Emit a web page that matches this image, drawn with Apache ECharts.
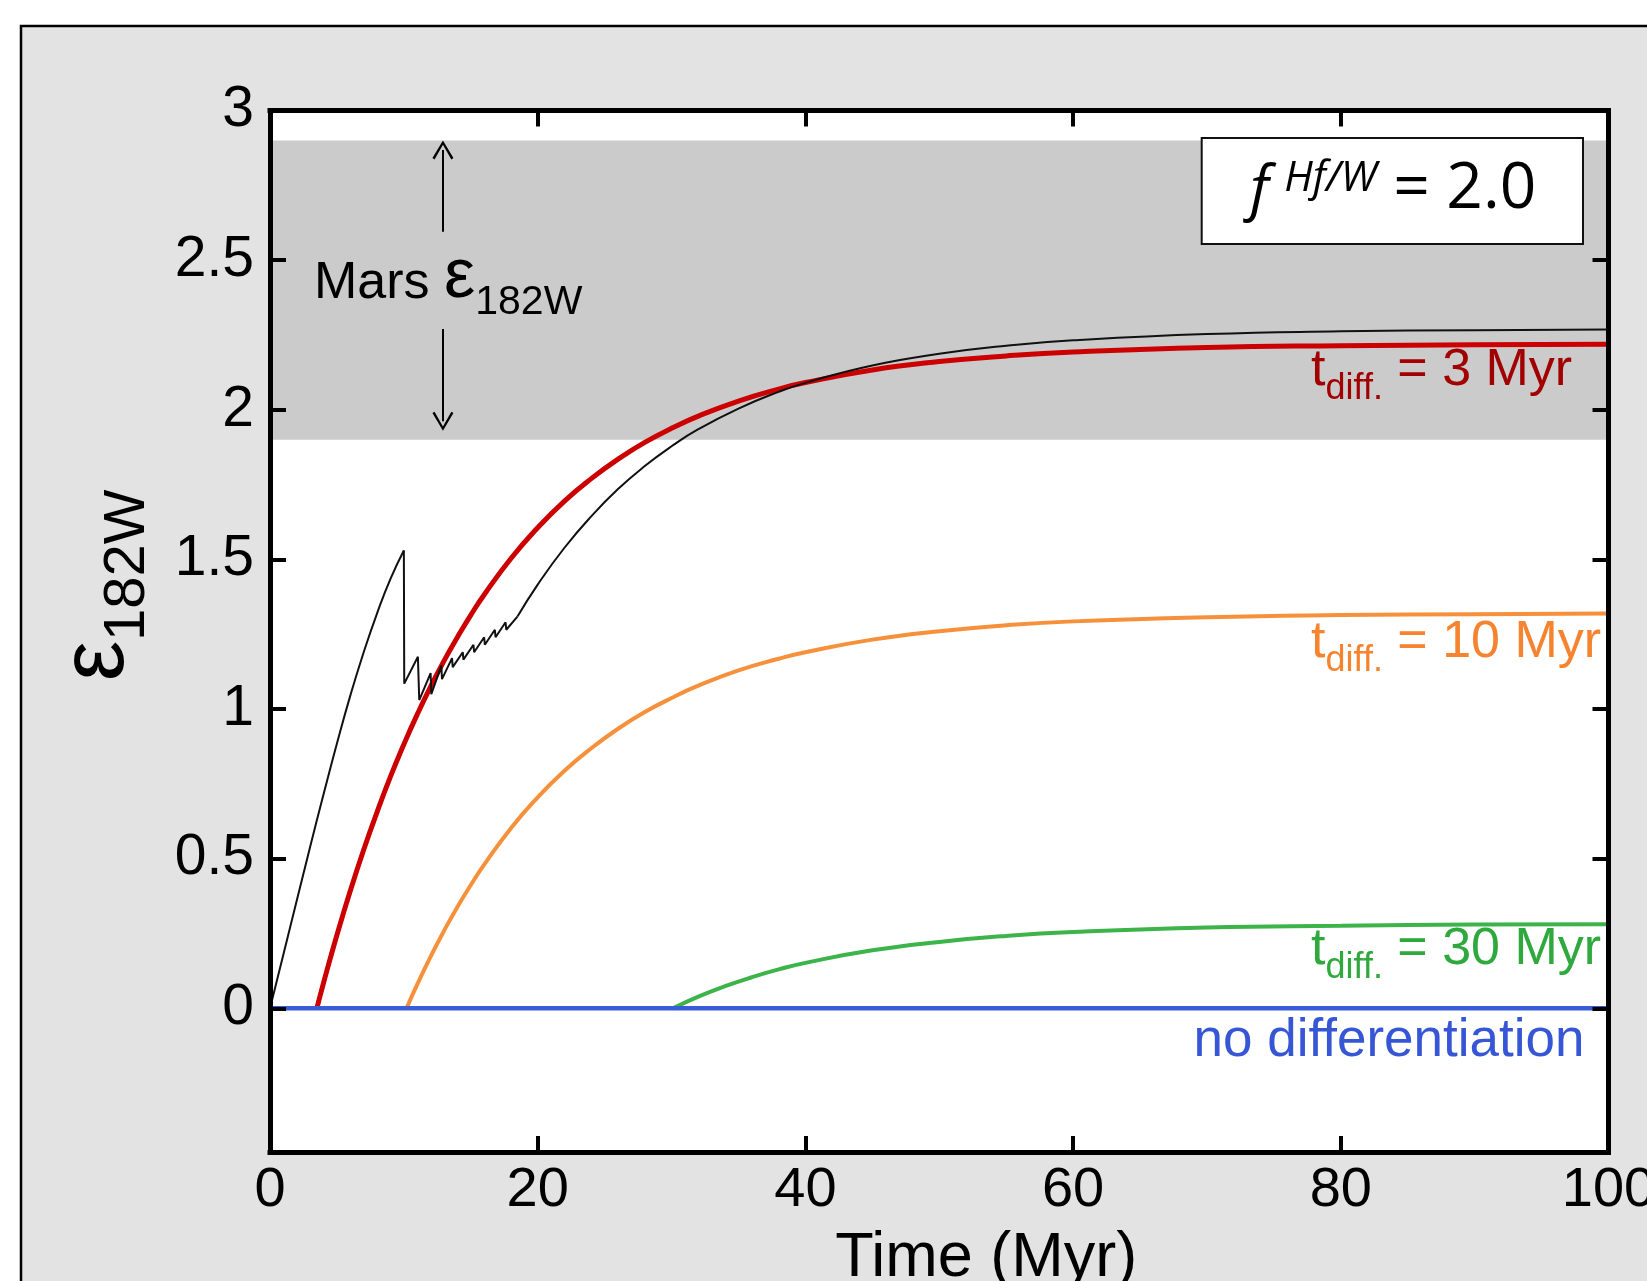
<!DOCTYPE html>
<html>
<head>
<meta charset="utf-8">
<script src="https://cdn.jsdelivr.net/npm/echarts@6/dist/echarts.min.js"></script>
<style>
  html, body { margin: 0; padding: 0; background: #fff; }
  #chart { width: 1647px; height: 1281px; }
</style>
</head>
<body>
<div id="chart"></div>
<script>
// Axis ticks
const xTicks = [0, 20, 40, 60, 80, 100];
const yTicks = [0, 0.5, 1, 1.5, 2, 2.5, 3];

// Mars epsilon-182W range (shaded band)
const marsRange = [1.9, 2.9];

// [time (Myr), epsilon 182W]
const tdiff3 = [[3.5,0],[4,0.085],[5,0.245],[6,0.393],[7,0.53],[8,0.656],[9,0.774],[10,0.882],[11,0.982],[12,1.075],[13,1.161],[14,1.24],[15,1.314],[16,1.382],[18,1.503],[20,1.606],[22,1.695],[24,1.77],[26,1.835],[28,1.891],[30,1.938],[32,1.979],[35,2.029],[38,2.069],[40,2.091],[45,2.133],[50,2.161],[55,2.18],[60,2.193],[70,2.208],[80,2.214],[90,2.217],[100,2.219]];
const tdiff10 = [[10.2,0],[11,0.08],[12,0.173],[13,0.259],[14,0.339],[15,0.412],[16,0.48],[18,0.602],[20,0.705],[22,0.794],[24,0.869],[26,0.934],[28,0.99],[30,1.037],[32,1.078],[35,1.129],[38,1.168],[40,1.19],[45,1.232],[50,1.26],[55,1.28],[60,1.293],[70,1.307],[80,1.314],[90,1.317],[100,1.319]];
const tdiff30 = [[30.1,0],[32,0.039],[34,0.074],[36,0.104],[38,0.13],[40,0.152],[45,0.194],[50,0.222],[55,0.242],[60,0.255],[70,0.27],[80,0.276],[90,0.28],[100,0.281]];
const noDiff = [[0,0],[100,0]];

// accretion model: growth, stepwise impacts, then decay-driven evolution
const accretionRise = [[0,0],[1,0.18],[2,0.36],[3,0.54],[4,0.715],[5,0.885],[6,1.045],[7,1.19],[8,1.32],[9,1.435],[10,1.53]];
const accretionSteps = [[10,1.53],[10.03,1.085],[11.05,1.175],[11.15,1.03],[12.0,1.12],[12.05,1.05],[12.8,1.145],[12.85,1.10],[13.6,1.17],[13.65,1.14],[14.4,1.19],[14.45,1.165],[15.2,1.215],[15.25,1.19],[16.0,1.24],[16.05,1.215],[16.8,1.265],[16.85,1.24],[17.6,1.29],[17.65,1.265],[18.5,1.31]];
const postAccretion = [[18.5,1.31],[20,1.416],[22,1.539],[24,1.644],[26,1.735],[28,1.812],[30,1.878],[32,1.935],[35,2.004],[38,2.06],[40,2.09],[45,2.148],[50,2.187],[55,2.214],[60,2.232],[70,2.253],[80,2.262],[90,2.266],[100,2.268]];

const FONT = "'Liberation Sans', Arial, Helvetica, sans-serif";
const BOXFONT = "'Open Sans', 'Noto Sans', sans-serif";

const COLORS = {
  red: '#cc0000', redText: '#a20000',
  orange: '#f7903a', orangeText: '#f5832f',
  green: '#3cb44a', greenText: '#2fa83e',
  blue: '#3b5cd8', blueText: '#3656d6',
  black: '#111111'
};

const chart = echarts.init(document.getElementById('chart'), null, { renderer: 'canvas' });

const axisLine = { show: true, onZero: false, lineStyle: { color: '#000', width: 5, cap: 'square' } };
const axisTick = { show: true, inside: true, length: 16, lineStyle: { color: '#000', width: 4 } };

function lineSeries(name, data, color, width, smooth, z) {
  return {
    name, type: 'line', data, symbol: 'none', smooth,
    lineStyle: { color, width }, itemStyle: { color }, z: z || 2, silent: true
  };
}

// chevron arrowhead pointing up
const ARROW = 'path://M10,0 L20,19 L18,20.5 L10,4.5 L2,20.5 L0,19 Z';

const option = {
  animation: false,
  backgroundColor: '#ffffff',
  grid: {
    left: 270, right: 38.5, top: 110.5, bottom: 129,
    outerBoundsMode: 'none', containLabel: false,
    show: true, backgroundColor: '#ffffff', borderWidth: 0
  },
  xAxis: [
    {
      type: 'value', position: 'bottom', min: xTicks[0], max: xTicks[xTicks.length - 1], interval: 20, z: 5,
      axisLine, axisTick, splitLine: { show: false },
      axisLabel: { margin: 11, fontSize: 56, fontFamily: FONT, color: '#000' },
      name: 'Time (Myr)', nameLocation: 'middle', nameGap: 75, nameMoveOverlap: false,
      nameTextStyle: { fontSize: 63, fontFamily: FONT, color: '#000', padding: [0, 0, 0, 94] }
    },
    {
      type: 'value', position: 'top', min: xTicks[0], max: xTicks[xTicks.length - 1], interval: 20, z: 5,
      axisLine, axisTick, splitLine: { show: false }, axisLabel: { show: false }
    }
  ],
  yAxis: [
    {
      type: 'value', position: 'left', min: -0.48, max: yTicks[yTicks.length - 1], z: 5,
      axisLine, splitLine: { show: false },
      axisTick: Object.assign({ customValues: yTicks }, axisTick),
      axisLabel: { customValues: yTicks, margin: 16, fontSize: 57, fontFamily: FONT, color: '#000' },
      name: '{e|ε}{s|182W}', nameLocation: 'middle', nameRotate: 90, nameGap: 113, nameMoveOverlap: false,
      nameTextStyle: {
        padding: [0, 0, 0, 92],
        rich: {
          e: { fontSize: 90, fontFamily: FONT, color: '#000' },
          s: { fontSize: 58, fontFamily: FONT, color: '#000', padding: [60, 0, 0, 0] }
        }
      }
    },
    {
      type: 'value', position: 'right', min: -0.48, max: yTicks[yTicks.length - 1], z: 5,
      axisLine, splitLine: { show: false },
      axisTick: Object.assign({ customValues: yTicks }, axisTick),
      axisLabel: { show: false }
    }
  ],
  series: [
    {
      name: 'Mars range', type: 'line', data: [], z: 1, silent: true,
      markArea: {
        silent: true,
        itemStyle: { color: '#cbcbcb' },
        data: [[{ yAxis: marsRange[0] }, { yAxis: marsRange[1] }]]
      }
    },
    lineSeries('t_diff = 3 Myr', tdiff3, COLORS.red, 5, 0.5),
    lineSeries('t_diff = 10 Myr', tdiff10, COLORS.orange, 4, 0.5),
    lineSeries('t_diff = 30 Myr', tdiff30, COLORS.green, 4, 0.5),
    lineSeries('no differentiation', noDiff, COLORS.blue, 4.5, false),
    lineSeries('accretion', accretionRise, COLORS.black, 2, 0.5, 3),
    lineSeries('accretion steps', accretionSteps, COLORS.black, 2, false, 3),
    Object.assign(lineSeries('after accretion', postAccretion, COLORS.black, 2, 0.5, 3), {
      markLine: {
        silent: true,
        symbol: ['none', ARROW],
        symbolSize: [21, 19],
        lineStyle: { color: '#000', width: 2, type: 'solid' },
        label: { show: false },
        data: [
          [{ coord: [12.92, 2.595] }, { coord: [12.92, 2.868] }],
          [{ coord: [12.92, 2.27] }, { coord: [12.92, 1.962] }]
        ]
      }
    })
  ]
};

chart.setOption(option);

// annotation text, anchored in data coordinates
const toPx = (t, v) => chart.convertToPixel({ xAxisIndex: 0, yAxisIndex: 0 }, [t, v]);

function tdiffLabel(t, v, color, rest) {
  const p = toPx(t, v);
  return {
    type: 'text', x: p[0], y: p[1] - 18, z: 20, silent: true,
    style: {
      text: '{t|t}{d|diff.}{r|' + rest + '}',
      fontSize: 52, fontFamily: FONT, fill: color, align: 'left', verticalAlign: 'middle',
      rich: {
        t: { fontSize: 52, fontFamily: FONT, fill: color },
        d: { fontSize: 36, fontFamily: FONT, fill: color, padding: [37, 0, 0, 0] },
        r: { fontSize: 52, fontFamily: FONT, fill: color }
      }
    }
  };
}

const marsPx = toPx(3.29, 2.36);
const noDiffPx = toPx(69.0, -0.172);

chart.setOption({
  graphic: [
    {
      type: 'rect', z: -1, silent: true,
      shape: { x: 21, y: 26, width: 1800, height: 1500 },
      style: { fill: '#e3e3e3', stroke: '#000', lineWidth: 2.5 }
    },
    {
      type: 'rect', z: 20, silent: true,
      shape: { x: 1201.7, y: 138, width: 381.3, height: 106 },
      style: { fill: '#ffffff', stroke: '#111', lineWidth: 2 }
    },
    {
      type: 'text', x: 1250, y: 190, z: 21, silent: true,
      style: {
        text: '{f|f }{h|Hf/W}{n| = 2.0}',
        fontSize: 64, fontFamily: BOXFONT, fill: '#000', align: 'left', verticalAlign: 'middle',
        rich: {
          f: { fontSize: 60, fontFamily: BOXFONT, fontStyle: 'italic', fill: '#000', padding: [3, 0, 0, 0] },
          h: { fontSize: 42, fontFamily: BOXFONT, fontStyle: 'italic', fill: '#000', padding: [0, 0, 22, 0] },
          n: { fontSize: 64, fontFamily: BOXFONT, fill: '#000' }
        }
      }
    },
    {
      type: 'text', x: marsPx[0], y: marsPx[1] - 18, z: 20, silent: true,
      style: {
        text: '{m|Mars }{e|ε}{s|182W}',
        fontSize: 52, fontFamily: FONT, fill: '#000', align: 'left', verticalAlign: 'middle',
        rich: {
          m: { fontSize: 52, fontFamily: FONT, fill: '#000' },
          e: { fontSize: 70, fontFamily: FONT, fill: '#000', padding: [0, 0, 12, 0] },
          s: { fontSize: 41, fontFamily: FONT, fill: '#000', padding: [38, 0, 0, 0] }
        }
      }
    },
    tdiffLabel(77.78, 2.072, COLORS.redText, ' = 3 Myr'),
    tdiffLabel(77.78, 1.162, COLORS.orangeText, ' = 10 Myr'),
    tdiffLabel(77.78, 0.137, COLORS.greenText, ' = 30 Myr'),
    {
      type: 'text', x: noDiffPx[0], y: noDiffPx[1] - 18, z: 20, silent: true,
      style: {
        text: 'no differentiation', fontSize: 53, fontFamily: FONT, fill: COLORS.blueText,
        align: 'left', verticalAlign: 'middle'
      }
    }
  ]
});
</script>
</body>
</html>
